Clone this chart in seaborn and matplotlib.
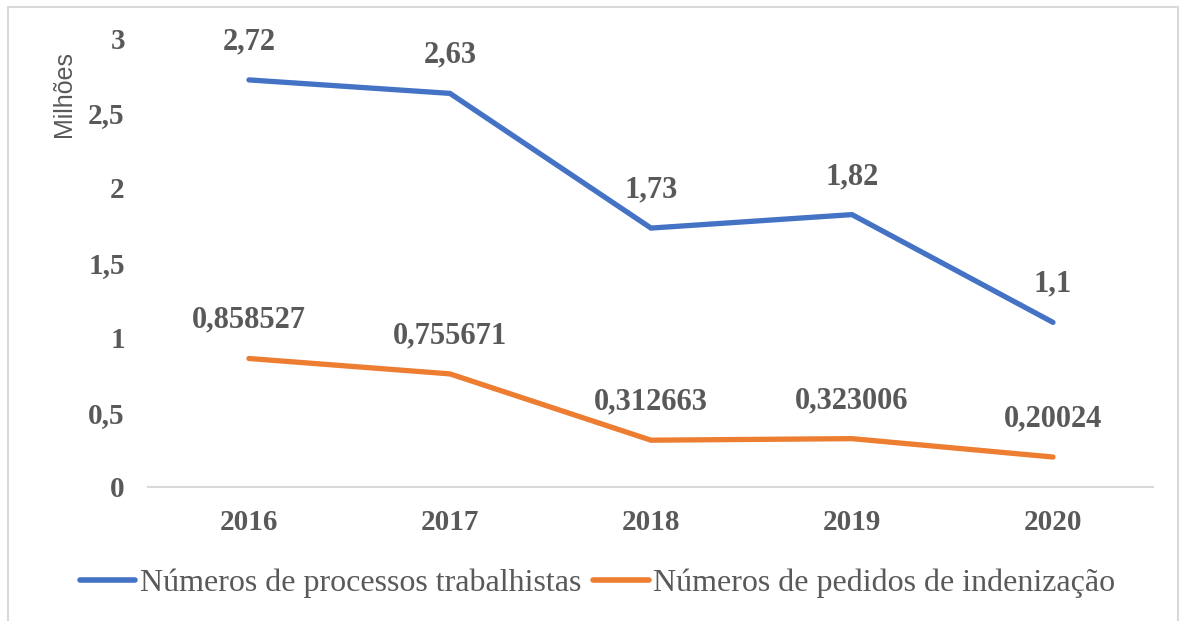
import pandas as pd
import matplotlib.pyplot as plt
import seaborn as sns
from matplotlib.patches import Rectangle
from matplotlib.ticker import FuncFormatter

years = ["2016", "2017", "2018", "2019", "2020"]
processos = [2.72, 2.63, 1.73, 1.82, 1.1]
pedidos = [0.858527, 0.755671, 0.312663, 0.323006, 0.20024]
processos_labels = ["2,72", "2,63", "1,73", "1,82", "1,1"]
pedidos_labels = ["0,858527", "0,755671", "0,312663", "0,323006", "0,20024"]
series_names = ["Números de processos trabalhistas", "Números de pedidos de indenização"]
colors = ["#4472C4", "#ED7D31"]

df = pd.concat([
    pd.DataFrame({"ano": years, "valor": processos, "serie": series_names[0], "rot": processos_labels}),
    pd.DataFrame({"ano": years, "valor": pedidos, "serie": series_names[1], "rot": pedidos_labels}),
])

sns.set_theme(style="white")
plt.rcParams["font.family"] = ["Liberation Serif", "DejaVu Serif"]
text_gray = "#595959"

fig = plt.figure(figsize=(11.81, 6.21), dpi=100)
ax = fig.add_axes([0.1257, 0.2158, 0.851, 0.723])

sns.lineplot(
    data=df, x="ano", y="valor", hue="serie", palette=colors,
    linewidth=3.8, ax=ax, sort=False, legend=True,
)
for line in ax.lines:
    line.set_solid_capstyle("round")
    line.set_solid_joinstyle("miter")

for _, row in df.iterrows():
    ax.annotate(
        row["rot"], (row["ano"], row["valor"]),
        xytext=(0, 17), textcoords="offset points",
        ha="center", va="bottom", fontsize=22, fontweight="bold", color=text_gray,
    )

ax.set_xlim(-0.5, 4.5)
ax.set_ylim(0, 3)
ax.set_yticks([0, 0.5, 1, 1.5, 2, 2.5, 3])
ax.yaxis.set_major_formatter(FuncFormatter(lambda v, p: f"{v:g}".replace(".", ",")))
ax.tick_params(axis="both", length=0, labelsize=21, labelcolor=text_gray)
ax.tick_params(axis="x", pad=16)
ax.tick_params(axis="y", pad=17)
for lab in ax.get_xticklabels() + ax.get_yticklabels():
    lab.set_fontweight("bold")

for s in ["left", "right", "top"]:
    ax.spines[s].set_visible(False)
ax.spines["bottom"].set_color("#D9D9D9")
ax.spines["bottom"].set_linewidth(1.5)

ax.set_xlabel("")
ax.set_ylabel("Milhões", fontsize=18, color=text_gray,
              family=["Liberation Sans", "DejaVu Sans"])
ax.yaxis.set_label_coords(-0.072, 0.875)

handles, labels = ax.get_legend_handles_labels()
leg = ax.legend(
    handles, labels, loc="center", bbox_to_anchor=(0.506, 0.061),
    bbox_transform=fig.transFigure, ncol=2, frameon=False,
    fontsize=23, handlelength=1.75, handletextpad=0.15, columnspacing=0.35,
)
for t in leg.get_texts():
    t.set_color(text_gray)
for h in leg.legend_handles:
    h.set_linewidth(4)
    h.set_solid_capstyle("round")

fig.patches.append(Rectangle(
    (8 / 1181, -0.02), 1170 / 1181, 1 - 7 / 621 + 0.02,
    transform=fig.transFigure, fill=False, edgecolor="#D9D9D9", linewidth=1.5,
))

fig.savefig("out.png", dpi=100)
